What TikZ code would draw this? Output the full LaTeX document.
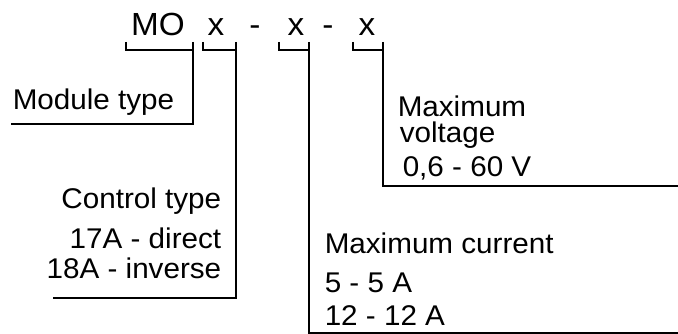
\documentclass[tikz,border=0pt]{standalone}
\usepackage{fontspec}
\setmainfont{Liberation Sans}[FakeStretch=1.04]
\begin{document}
\begin{tikzpicture}[x=1pt, y=-1pt, line width=1.5pt,
  code part/.style={inner sep=0pt, font=\fontsize{32}{35}\selectfont},
  label line/.style={inner sep=0pt, font=\fontsize{28.5}{31}\selectfont}]
\useasboundingbox (0,0) rectangle (678,334);
% order code
\node [code part, anchor=base] (mo) at (158,36) {MO};
\node [code part, anchor=base] (xa) at (216,36) {x};
\node [code part, anchor=base] (da) at (255,36) {-};
\node [code part, anchor=base] (xb) at (296,36) {x};
\node [code part, anchor=base] (db) at (328,36) {-};
\node [code part, anchor=base] (xc) at (367,36) {x};
% brackets under the code
\foreach \l/\r in {126/193, 203/236, 279/309, 353/383}
  \draw (\l,42) |- (\r,50) (\r,42) -- (\r,50);
% labels
\node [label line, anchor=base west] (mtype) at (12,110) {Module type};
\node [label line, anchor=base east] (ctype) at (222,209) {Control type};
\node [label line, anchor=base east] (cdir) at (222,248) {17A - direct};
\node [label line, anchor=base east] (cinv) at (222,278) {18A - inverse};
\node [label line, anchor=base west] (vmax) at (397,117) {Maximum};
\node [label line, anchor=base west] (vvolt) at (399,143) {voltage};
\node [label line, anchor=base west] (vrange) at (402,177) {0,6 - 60 V};
\node [label line, anchor=base west] (imax) at (324,254) {Maximum current};
\node [label line, anchor=base west] (ifive) at (324,292) {5 - 5 A};
\node [label line, anchor=base west] (itwelve) at (324,325) {12 - 12 A};
% leader lines
\coordinate (mend) at (11,124);
\coordinate (cend) at (53,298);
\coordinate (iend) at (678,333);
\coordinate (vend) at (678,186);
\draw (193,50) |- (mend);
\draw (236,50) |- (cend);
\draw (309,50) |- (iend);
\draw (383,50) |- (vend);
\end{tikzpicture}
\end{document}
